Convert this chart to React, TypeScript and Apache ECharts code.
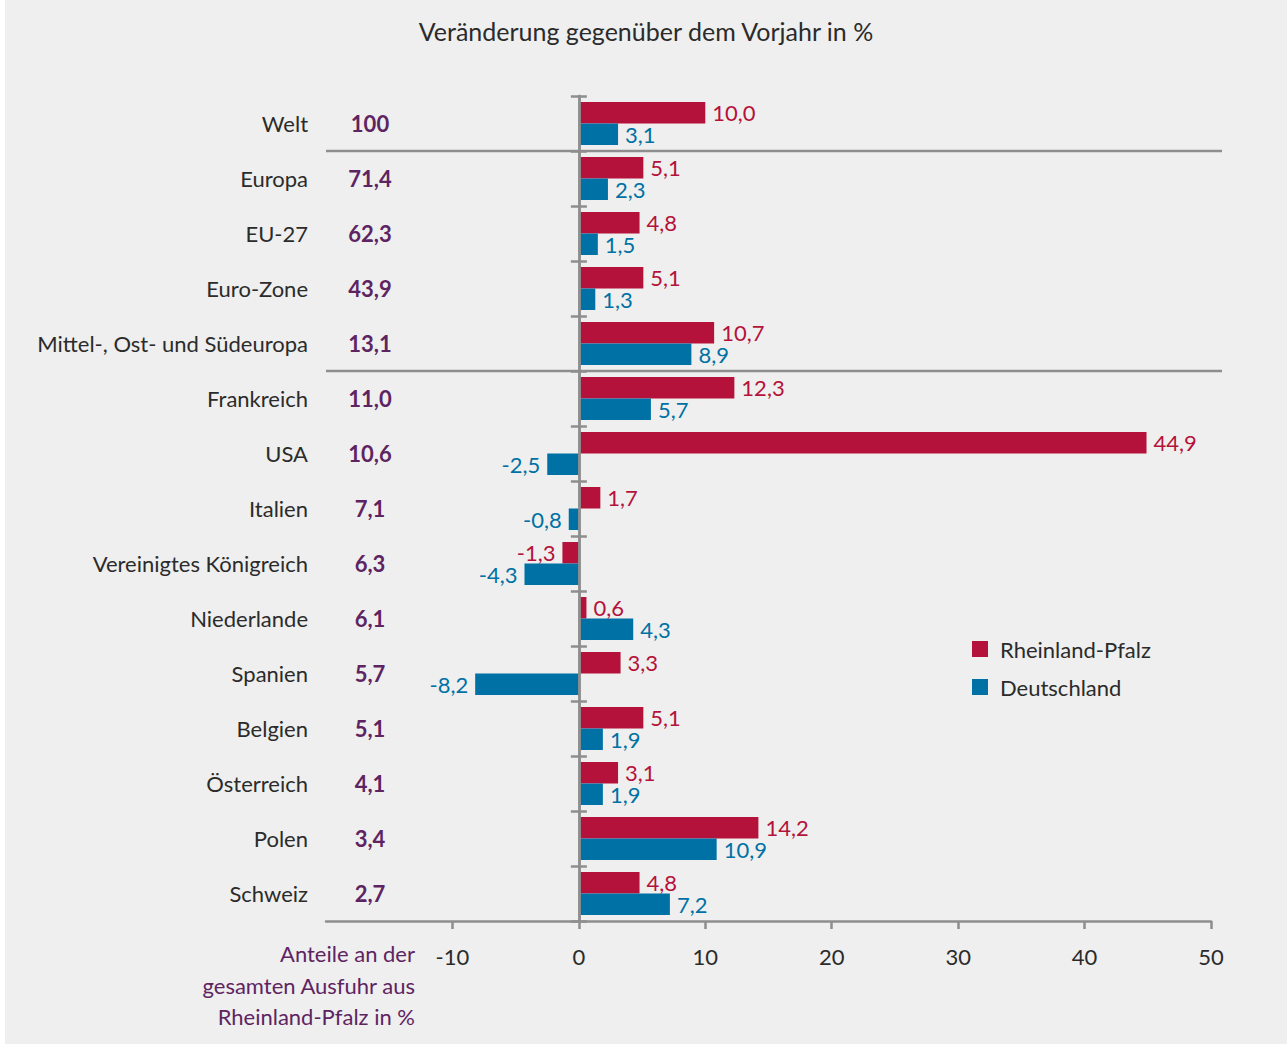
import React, { useEffect, useRef } from "react";
import * as echarts from "echarts";

const categories = [
  "Welt",
  "Europa",
  "EU-27",
  "Euro-Zone",
  "Mittel-, Ost- und Südeuropa",
  "Frankreich",
  "USA",
  "Italien",
  "Vereinigtes Königreich",
  "Niederlande",
  "Spanien",
  "Belgien",
  "Österreich",
  "Polen",
  "Schweiz",
];
const shares = [100, 71.4, 62.3, 43.9, 13.1, 11.0, 10.6, 7.1, 6.3, 6.1, 5.7, 5.1, 4.1, 3.4, 2.7];
const rpValues = [10.0, 5.1, 4.8, 5.1, 10.7, 12.3, 44.9, 1.7, -1.3, 0.6, 3.3, 5.1, 3.1, 14.2, 4.8];
const deValues = [3.1, 2.3, 1.5, 1.3, 8.9, 5.7, -2.5, -0.8, -4.3, 4.3, -8.2, 1.9, 1.9, 10.9, 7.2];
const xTicks = [-10, 0, 10, 20, 30, 40, 50];
const separatorsAfter = [1, 5];

const RED = "#b5123b";
const BLUE = "#0071a4";
const PURPLE = "#5e2462";
const TEXT = "#2b2b2b";
const AXIS = "#8e8e8e";
const FONT = "Lato";
const FS = 22;

const fmt = (v: number) => v.toFixed(1).replace(".", ",");
const fmtShare = (v: number) => (v >= 100 ? String(v) : fmt(v));

export default function App() {
  const ref = useRef<HTMLDivElement>(null);
  useEffect(() => {
    if (!ref.current) return;
    const chart = echarts.init(ref.current, null, { renderer: "svg" });
    const labelMap: Record<string, string> = {};
    categories.forEach((c, i) => (labelMap[c] = fmtShare(shares[i])));

    const mkData = (vals: number[]) =>
      vals.map((v) => ({ value: v, label: { position: v < 0 ? "left" : "right" } }));

    const barLabel = (color: string) => ({
      show: true,
      distance: 7,
      color,
      fontFamily: FONT,
      fontSize: FS,
      formatter: (p: any) => fmt(p.value),
    });

    chart.setOption({
      animation: false,
      backgroundColor: "#eeefee",
      textStyle: { fontFamily: FONT },
      title: {
        text: "Veränderung gegenüber dem Vorjahr in %",
        left: "center",
        top: 13,
        textStyle: { fontFamily: FONT, fontSize: 25, fontWeight: "normal", color: TEXT },
      },
      legend: {
        orient: "vertical",
        left: 967,
        top: 638,
        padding: 0,
        itemWidth: 16,
        itemHeight: 16,
        itemGap: 16,
        icon: "rect",
        textStyle: {
          fontFamily: FONT,
          fontSize: FS,
          color: TEXT,
          padding: [0, 0, 0, 7],
        },
        data: ["Rheinland-Pfalz", "Deutschland"],
      },
      grid: { left: 321, right: 76, top: 96, bottom: 123, containLabel: false, outerBoundsMode: "none" },
      xAxis: [
        {
          type: "value",
          min: -20,
          max: 50,
          interval: 10,
          splitLine: { show: false },
          axisLine: { show: true, onZero: false, lineStyle: { color: AXIS, width: 2.5 } },
          axisTick: { show: true, length: 8, customValues: xTicks, lineStyle: { color: AXIS, width: 2.5 } },
          axisLabel: {
            customValues: xTicks,
            fontFamily: FONT,
            fontSize: FS,
            color: TEXT,
            margin: 24,
          },
        },
        {
          type: "value",
          min: -20,
          max: 50,
          interval: 10,
          show: false,
        },
      ],
      yAxis: [
        {
          type: "category",
          data: categories,
          inverse: true,
          z: 5,
          axisLine: { show: true, onZero: true, onZeroAxisIndex: 0, lineStyle: { color: AXIS, width: 2.5 } },
          axisTick: { show: true, length: 8, lineStyle: { color: AXIS, width: 2.5 } },
          axisLabel: {
            margin: -103,
            formatter: (v: string) => `{n|${v}}{s|${labelMap[v]}}`,
            rich: {
              n: { fontFamily: FONT, fontSize: FS, color: TEXT, padding: [0, 3, 0, 0] },
              s: {
                fontFamily: FONT,
                fontSize: FS,
                fontWeight: "bold",
                color: PURPLE,
                width: 118,
                align: "center",
              },
            },
          },
        },
        {
          type: "category",
          data: categories,
          inverse: true,
          position: "left",
          z: 5,
          axisLine: { show: true, onZero: true, onZeroAxisIndex: 1, lineStyle: { color: AXIS, width: 2.5 } },
          axisTick: { show: true, inside: true, length: 8, lineStyle: { color: AXIS, width: 2.5 } },
          axisLabel: { show: false },
        },
        {
          type: "value",
          show: false,
          min: 0,
          max: categories.length,
          inverse: true,
        },
      ],
      series: [
        {
          name: "Rheinland-Pfalz",
          type: "bar",
          yAxisIndex: 0,
          data: mkData(rpValues),
          barWidth: 21.5,
          barGap: "0%",
          itemStyle: { color: RED },
          label: barLabel(RED),
        },
        {
          name: "Deutschland",
          type: "bar",
          yAxisIndex: 0,
          data: mkData(deValues),
          barWidth: 21.5,
          barGap: "0%",
          itemStyle: { color: BLUE },
          label: barLabel(BLUE),
        },
        {
          type: "custom",
          yAxisIndex: 2,
          silent: true,
          clip: false,
          z: 6,
          data: separatorsAfter.map((s) => [0, s]),
          renderItem: (params: any, api: any) => {
            const v = api.value(1);
            const p1 = api.coord([-20, v]);
            const p2 = api.coord([50, v]);
            return {
              type: "line",
              shape: { x1: p1[0], y1: p1[1], x2: p2[0] + 11, y2: p2[1] },
              style: { stroke: AXIS, lineWidth: 2.5 },
            };
          },
        },
      ],
      graphic: [
        {
          type: "text",
          x: 410,
          y: 938,
          style: {
            text: "Anteile an der\ngesamten Ausfuhr aus\nRheinland-Pfalz in %",
            align: "right",
            verticalAlign: "top",
            fontFamily: FONT,
            fontSize: FS,
            lineHeight: 31.5,
            fill: PURPLE,
          },
        },
      ],
    });
    return () => chart.dispose();
  }, []);
  return (
    <div
      ref={ref}
      style={{ position: "absolute", left: 5, top: 0, width: 1282, height: 1044 }}
    />
  );
}
